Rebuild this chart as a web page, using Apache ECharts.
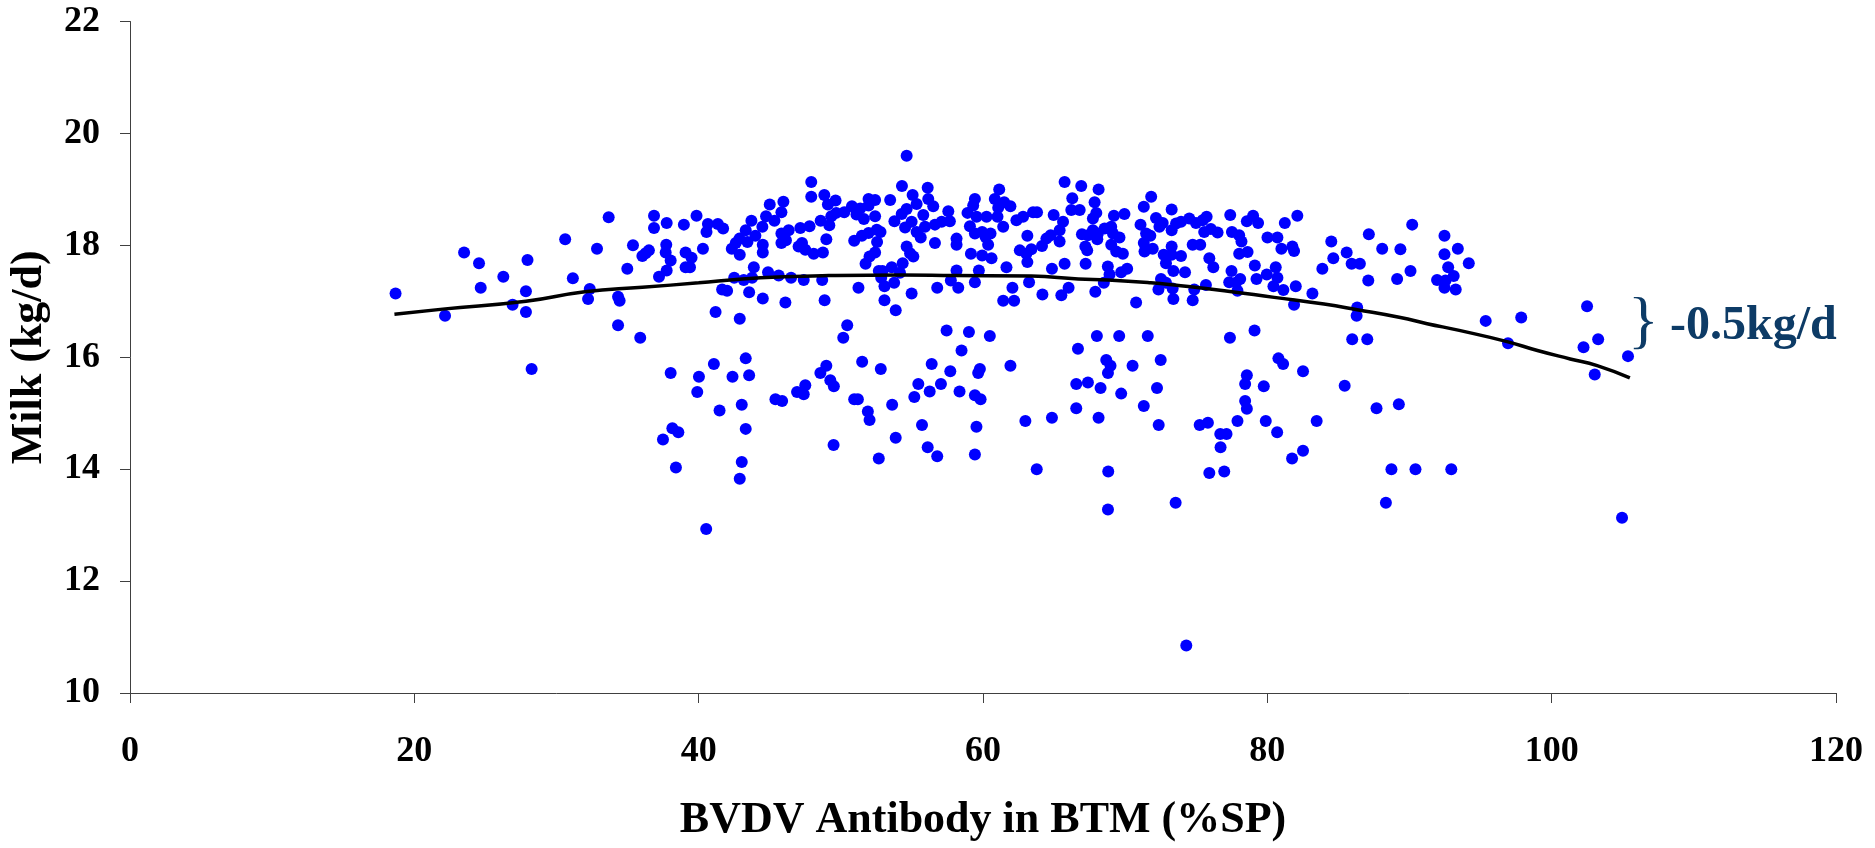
<!DOCTYPE html>
<html>
<head>
<meta charset="utf-8">
<script src="https://cdn.jsdelivr.net/npm/echarts@6/dist/echarts.min.js"></script>
<style>html,body{margin:0;padding:0;background:#fff}#c{width:1875px;height:848px}</style>
</head>
<body>
<div id="c"></div>
<script>
// BVDV antibody (%SP) for each herd
const antibody = [
18.68,22.16,23.5,24.55,24.67,26.26,26.91,27.85,27.85,27.96,30.61,31.15,32.34,32.22,32.85,33.67,34.33,34.44,34.33,35.38,34.98,36.04,36.27,36.5,28.25,35.89,
47.92,47.92,48.84,49.09,49.63,45.0,45.96,45.82,44.74,45.33,44.48,43.71,43.31,43.99,43.43,42.87,42.61,42.33,42.89,44.51,44.51,45.82,45.82,46.33,46.14,47.15,47.8,48.58,49.19,49.33,49.68,50.24,50.78,51.36,51.1,51.62,51.95,52.41,51.95,52.41,53.47,53.77,54.3,48.98,47.27,47.5,48.09,48.74,47.03,50.94,51.48,51.95,52.53,52.79,52.55,52.41,52.02,51.74,
36.86,36.86,37.75,38.96,39.85,40.65,40.55,41.35,41.72,40.3,39.08,39.5,39.08,39.39,37.72,37.68,38.03,37.75,37.21,42.5,43.17,43.76,43.88,44.88,45.63,46.5,47.39,48.69,41.65,42.0,43.55,44.51,46.1,48.86,51.24,41.19,42.89,50.45,52.67,52.93,53.58,52.84,53.07,53.75,53.07,53.86,54.35,
54.63,56.11,55.05,55.33,56.15,56.5,54.63,54.28,54.52,54.98,55.8,55.92,55.33,55.62,56.62,57.09,57.67,57.56,56.62,58.14,58.14,54.63,54.87,55.1,54.16,54.98,56.78,57.74,58.14,58.26,59.15,59.43,59.71,58.91,59.43,59.31,59.55,59.08,59.43,60.25,59.94,60.18,60.53,60.36,59.94,60.6,60.83,61.14,61.07,61.49,61.93,61.02,61.42,61.65,62.07,61.42,62.19,62.35,62.82,63.52,63.8,63.12,62.59,63.05,63.4,63.12,63.24,64.15,64.46,64.76,64.97,65.63,65.39,65.39,64.85,64.18,65.51,66.02,65.74,66.91,68.13,66.28,67.85,66.21,66.8,67.97,67.73,66.96,67.38,67.73,68.08,68.04,67.2,67.33,67.22,65.74,67.9,68.5,68.78,68.9,69.21,69.95,68.55,69.02,69.14,69.6,69.02,69.37,69.84,69.72,70.14,70.77,71.31,71.83,71.08,71.47,71.31,71.36,
73.27,72.17,72.64,72.41,71.77,71.94,73.27,73.58,73.93,74.51,74.98,75.45,75.73,75.56,76.03,76.5,73.27,72.71,73.27,73.93,72.87,73.39,74.21,74.75,75.28,75.92,76.2,72.52,72.87,72.34,73.34,73.39,74.75,74.86,75.68,77.39,77.51,78.02,78.18,78.02,78.61,77.48,77.32,77.79,78.09,77.9,78.56,79.0,79.35,79.12,79.24,79.96,80.59,80.71,80.43,81.13,80.01,80.71,80.99,81.23,81.76,81.88,82.11,82.0,81.88,83.17,83.87,84.5,84.64,85.58,85.93,86.51,87.14,87.1,86.32,86.28,88.08,89.13,89.36,
90.19,90.07,92.46,93.4,92.46,94.17,92.72,93.11,91.94,92.53,92.46,93.25,95.36,97.86,96.93,102.49,102.24,103.27,103.03,105.37,
38.03,40.02,39.9,41.07,42.38,43.31,43.55,41.47,43.03,43.31,38.15,38.57,37.49,38.4,43.03,42.89,45.4,45.87,46.92,47.5,47.39,48.98,48.56,49.26,49.51,50.17,49.49,51.5,52.81,50.94,51.2,51.9,52.02,53.61,53.86,52.67,
57.44,59.01,60.48,58.49,56.39,57.7,59.78,59.66,61.93,55.45,55.17,56.25,57.04,58.35,59.43,59.83,55.71,56.11,56.78,59.54,59.43,62.98,64.85,63.78,66.68,68.01,69.58,71.59,68.67,68.97,68.79,70.52,66.56,67.38,68.27,69.72,66.56,68.13,71.31,68.81,68.79,
72.5,72.24,72.36,73.55,77.37,79.1,80.78,81.11,82.51,78.56,78.44,79.75,78.44,78.56,75.24,75.82,77.9,79.89,80.69,83.47,76.69,77.13,76.71,81.74,82.51,75.92,76.97,85.44,85.97,87.03,87.68,89.25,88.73,88.34,
40.53,104.95,74.3,90.42,92.94
];
// Milk (kg/d) for each herd, same order
const milk = [
17.14,16.74,17.87,17.68,17.24,17.44,16.94,16.81,17.18,17.74,18.11,17.41,17.22,17.04,17.94,18.5,17.08,17.01,16.57,18.0,17.58,17.81,17.86,17.91,15.79,16.35,
19.13,18.87,18.90,18.73,18.80,18.73,18.78,18.59,18.52,18.44,18.33,18.44,18.27,18.17,18.06,18.12,18.04,17.94,17.83,18.01,17.87,18.04,18.21,18.27,18.09,18.31,18.34,18.44,18.36,18.52,18.58,18.59,18.70,18.66,18.55,18.47,18.83,18.81,18.71,18.52,18.81,18.43,19.06,18.11,18.04,17.92,17.85,17.87,17.98,18.08,18.17,18.22,18.28,18.24,18.06,17.87,17.80,17.67,
18.53,18.31,18.40,18.37,18.53,18.38,18.24,18.38,18.3,17.94,17.87,17.78,17.61,17.61,18.01,17.87,17.73,17.55,17.44,17.42,17.38,17.42,17.61,17.52,17.46,17.42,17.38,17.38,17.21,17.19,17.16,17.05,16.98,17.02,17.24,16.81,16.69,16.57,17.54,17.54,17.61,17.42,17.27,17.33,17.02,16.84,17.68,
19.6,19.03,18.90,18.74,18.83,18.70,18.65,18.56,18.32,18.42,18.54,18.33,18.24,18.14,18.37,18.42,18.43,18.61,18.04,18.12,18.01,17.98,17.86,17.8,17.51,17.14,17.24,17.37,17.55,17.24,17.85,17.34,17.55,18.58,18.83,18.71,18.51,18.34,18.21,18.51,18.24,18.15,18.21,18.01,17.82,17.77,18.83,19.0,18.67,18.77,18.7,18.51,18.33,17.61,17.24,17.01,17.01,18.45,18.51,18.59,18.59,18.17,17.91,17.85,17.93,17.70,17.34,17.99,18.12,18.18,18.54,18.42,18.27,18.07,17.58,17.12,17.11,17.24,19.13,19.06,19.0,18.84,18.77,18.63,18.63,18.58,18.48,18.20,18.18,18.27,18.21,18.11,17.98,17.91,17.67,17.67,17.17,17.33,17.62,17.48,18.53,18.56,18.3,18.33,18.21,18.14,18.01,17.89,17.85,17.52,17.58,16.98,18.69,18.87,18.37,18.21,18.04,17.89,
18.64,18.49,18.4,18.33,18.17,17.94,18.27,18.39,18.42,18.48,18.4,18.45,18.51,18.24,18.29,18.23,17.98,17.83,17.83,17.81,17.68,17.54,17.52,18.01,18.01,17.77,17.61,17.40,17.33,17.21,17.23,17.04,17.02,17.21,17.29,18.54,18.24,18.18,18.07,17.85,17.88,17.54,17.34,17.33,17.4,17.19,18.43,18.53,18.4,17.64,17.40,17.48,17.61,17.42,17.27,17.2,18.14,18.14,17.94,18.4,17.98,17.9,18.53,17.27,16.94,17.14,17.58,18.07,17.77,17.87,17.67,17.67,18.2,17.37,16.89,16.74,17.94,17.4,17.93,
18.37,17.54,18.17,17.94,17.84,17.68,17.61,17.45,17.38,17.37,17.24,17.21,16.65,16.71,16.25,16.91,16.18,16.32,15.69,16.02,
15.72,15.65,15.38,15.88,15.65,15.98,15.68,15.05,15.15,14.72,14.73,14.66,14.53,14.03,14.13,13.83,15.25,15.22,15.38,15.5,15.34,15.85,15.72,15.59,15.48,16.35,14.43,15.92,15.79,15.25,15.25,15.03,14.88,15.15,14.56,14.19,
16.48,16.45,16.38,16.12,15.88,15.75,15.79,15.72,15.85,15.52,15.29,15.39,15.52,15.39,15.32,15.25,14.79,14.39,14.23,14.76,14.26,14.86,14.92,14.0,16.15,16.38,16.38,16.38,15.95,15.85,15.72,15.85,15.52,15.55,15.45,15.35,15.09,14.92,15.13,13.96,13.28,
15.95,15.45,14.79,13.4,16.35,16.48,15.98,15.88,15.75,15.68,15.52,15.48,15.22,15.08,14.79,14.83,14.86,14.86,14.66,14.86,14.63,14.63,14.39,14.19,14.33,13.93,13.96,15.49,16.32,16.32,15.09,15.16,14.0,13.4,
12.93,13.13,10.85,14.0,14.0
];
// fitted curve
const trendX = [18.6,22,27.85,32,36.04,40,43.06,46,49.14,54.3,58,63.4,66.7,68.8,71.8,73.46,76.97,80.48,83.99,86.32,89.36,91.24,93.5,96.86,99,101.3,103.2,105.5];
const trendY = [16.77,16.86,17.0,17.17,17.25,17.33,17.40,17.44,17.46,17.47,17.46,17.45,17.40,17.38,17.33,17.29,17.19,17.07,16.95,16.85,16.71,16.6,16.48,16.28,16.12,15.97,15.85,15.63];
const xAxisTitle = 'BVDV Antibody in BTM (%SP)';
const yAxisTitle = 'Milk (kg/d)';
const noteText = '-0.5kg/d';

const pts = antibody.map((v, i) => [v, milk[i]]);
const trend = trendX.map((v, i) => [v, trendY[i]]);

const font = 'Liberation Serif, Times New Roman, serif';
const chart = echarts.init(document.getElementById('c'), null, {renderer: 'canvas'});
chart.setOption({
  animation: false,
  backgroundColor: '#ffffff',
  grid: {left: 127, right: 39, top: 21.5, bottom: 145, containLabel: false},
  xAxis: {
    type: 'value', min: 0, max: 120, interval: 20,
    name: xAxisTitle, nameLocation: 'middle', nameGap: 106,
    nameTextStyle: {fontFamily: font, fontWeight: 'bold', fontSize: 44, color: '#000'},
    axisLine: {show: true, onZero: false, lineStyle: {color: '#404040', width: 1}},
    axisTick: {show: true, length: 10, lineStyle: {color: '#404040'}},
    axisLabel: {fontFamily: font, fontWeight: 'bold', fontSize: 36, color: '#000', margin: 41},
    splitLine: {show: false}
  },
  yAxis: {
    type: 'value', min: 10, max: 22, interval: 2,
    name: yAxisTitle, nameLocation: 'middle', nameGap: 78, nameRotate: 90,
    nameTextStyle: {fontFamily: font, fontWeight: 'bold', fontSize: 44, color: '#000'},
    axisLine: {show: true, lineStyle: {color: '#404040', width: 1}},
    axisTick: {show: true, length: 10, lineStyle: {color: '#404040'}},
    axisLabel: {fontFamily: font, fontWeight: 'bold', fontSize: 36, color: '#000', margin: 30},
    splitLine: {show: false}
  },
  series: [
    {type: 'scatter', data: pts, symbol: 'circle', symbolSize: 12,
     itemStyle: {color: '#0000ff', opacity: 1}, z: 2},
    {type: 'line', data: trend, smooth: true, showSymbol: false, symbol: 'none',
     lineStyle: {color: '#000', width: 3.5}, z: 3}
  ],
  graphic: [
    {type: 'text', left: 1628, top: 292, z: 10,
     style: {text: '}', fontFamily: font, fontSize: 64, fill: '#0d3b66'}},
    {type: 'text', left: 1670, top: 303, z: 10,
     style: {text: noteText, fontFamily: font, fontWeight: 'bold', fontSize: 48, fill: '#0d3b66'}}
  ]
});
</script>
</body>
</html>
